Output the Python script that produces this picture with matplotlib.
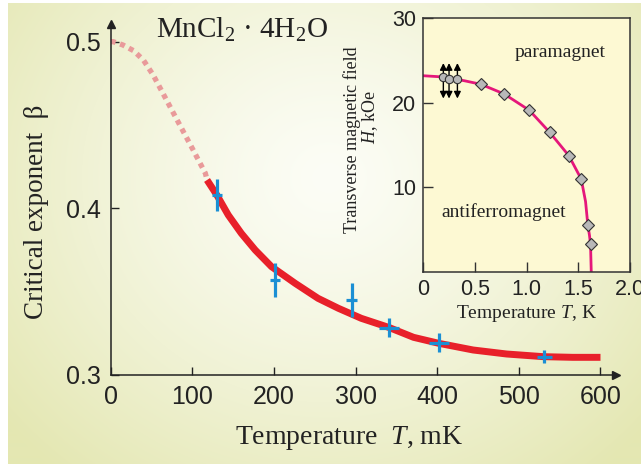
import numpy as np
import matplotlib
matplotlib.use("Agg")
import matplotlib.pyplot as plt

plt.rcParams["mathtext.fontset"] = "custom"
plt.rcParams["mathtext.rm"] = "Liberation Serif"
plt.rcParams["mathtext.it"] = "Liberation Serif:italic"

# main panel: critical exponent beta vs temperature (mK)
fit_T = [118, 130, 144, 160, 177, 197, 226, 254, 279, 307, 341, 371, 402, 444, 485, 530, 566, 600]
fit_beta = [0.417, 0.408, 0.396, 0.385, 0.375, 0.365, 0.355, 0.346, 0.340, 0.334, 0.3285,
            0.3226, 0.319, 0.315, 0.3126, 0.311, 0.3106, 0.3106]

extrap_T = [0, 3, 15, 28, 40, 52, 64, 77, 89, 101, 116, 118]
extrap_beta = [0.5, 0.5, 0.498, 0.4946, 0.489, 0.480, 0.469, 0.457, 0.446, 0.435, 0.421, 0.417]

meas_T = [130, 201, 295, 341, 402, 531]
meas_beta = [0.408, 0.357, 0.345, 0.3284, 0.3194, 0.311]
meas_dT = [6, 6, 7, 12, 12.5, 9]
meas_dbeta = [0.0094, 0.010, 0.010, 0.0055, 0.0055, 0.0038]

# inset: phase diagram H(T)
phase_T = [0, 0.2, 0.4, 0.557, 0.783, 1.026, 1.223, 1.408, 1.528, 1.57, 1.592, 1.608, 1.618, 1.625]
phase_H = [23.2, 23.05, 22.6, 22.19, 21.04, 19.11, 16.5, 13.74, 10.97, 8.3, 5.53, 4.3, 3.24, 0]

diam_T = [0.557, 0.783, 1.026, 1.223, 1.408, 1.528, 1.592, 1.618]
diam_H = [22.19, 21.04, 19.11, 16.5, 13.74, 10.97, 5.53, 3.24]

circ_T = [0.194, 0.249, 0.330]
circ_H = [23.0, 22.78, 22.78]
circ_lo = [20.5, 20.5, 20.5]
circ_hi = [24.7, 24.7, 24.7]

serif = ["Liberation Serif", "DejaVu Serif"]
sans = ["Liberation Sans", "DejaVu Sans"]

fig = plt.figure(figsize=(6.41, 4.67), dpi=100)

# background gradient
bg = fig.add_axes([8 / 641, 3 / 467, 633 / 641, 461 / 467])
bg.set_axis_off()
yy, xx = np.mgrid[0:461, 0:633]
r = np.sqrt((xx - 320) ** 2 + ((yy - 175) * 1.1) ** 2) / 420
r = np.clip(r, 0, 1) ** 1.3
c0 = np.array([252, 253, 246]) / 255
c1 = np.array([228, 231, 178]) / 255
img = c0[None, None, :] * (1 - r[..., None]) + c1[None, None, :] * r[..., None]
bg.imshow(img, aspect="auto", interpolation="bilinear")

ax = fig.add_axes([110.7 / 641, (467 - 375) / 467, (616 - 110.7) / 641, (375 - 24) / 467])
ax.patch.set_visible(False)
ax.set_xlim(0, 619)
ax.set_ylim(0.3, 0.5106)

ax.plot(extrap_T, extrap_beta, color="#e99a9a", lw=3.8, ls=(0, (0.95, 0.9)), solid_capstyle="butt")
ax.plot(fit_T, fit_beta, color="#e8202a", lw=5, solid_capstyle="butt", solid_joinstyle="round")
ax.errorbar(meas_T, meas_beta, xerr=meas_dT, yerr=meas_dbeta, fmt="none",
            ecolor="#1b8fd4", elinewidth=2.3, capsize=0, zorder=5)

for s in ["top", "right"]:
    ax.spines[s].set_visible(False)
for s in ["left", "bottom"]:
    ax.spines[s].set_linewidth(1.1)
    ax.spines[s].set_color("#222222")
ax.plot(1, 0, ">", color="#222222", ms=6, transform=ax.transAxes, clip_on=False)
ax.plot(0, 1, "^", color="#222222", ms=6, transform=ax.transAxes, clip_on=False)

ax.set_xticks([0, 100, 200, 300, 400, 500, 600])
ax.set_yticks([0.3, 0.4, 0.5])
ax.set_yticklabels(["0.3", "0.4", "0.5"])
ax.tick_params(direction="in", length=6, width=1, color="#222222", labelsize=18,
               labelcolor="#222222")
ax.tick_params(axis="x", pad=7)
ax.tick_params(axis="y", pad=7)
for lab in ax.get_xticklabels() + ax.get_yticklabels():
    lab.set_family(sans)

fig.text(37 / 641, 1 - 212 / 467, "Critical exponent  \u03b2", rotation=90, ha="center",
         va="center", fontsize=19.5, family=serif, color="#222222")
fig.text(349 / 641, 1 - 438 / 467, "Temperature  $\\it{T}$, mK", ha="center", va="center",
         fontsize=20, family=serif, color="#222222")
fig.text(242 / 641, 1 - 30 / 467, "MnCl$_2$ \u00b7 4H$_2$O", ha="center", va="center",
         fontsize=21, family=serif, color="#222222")

# inset
ins = fig.add_axes([423.3 / 641, (467 - 271.7) / 467, (630 - 423.3) / 641, (271.7 - 18.3) / 467])
ins.set_facecolor("#fdf9d3")
ins.set_xlim(0, 2.0)
ins.set_ylim(0, 30)
ins.plot(phase_T, phase_H, color="#e5177b", lw=2)
for t, lo, hi in zip(circ_T, circ_lo, circ_hi):
    ins.annotate("", xy=(t, hi), xytext=(t, lo),
                 arrowprops=dict(arrowstyle="<|-|>", color="black", lw=1,
                                 mutation_scale=10, shrinkA=0, shrinkB=0))
ins.plot(circ_T, circ_H, "o", ms=6, mfc="#b8b8b8", mec="#333333", mew=0.8, zorder=5)
ins.plot(diam_T, diam_H, "D", ms=6, mfc="#b8b8b8", mec="#333333", mew=0.8, zorder=5)

ins.text(1.32, 26.0, "paramagnet", ha="center", va="center", fontsize=14, family=serif,
         color="#222222")
ins.text(0.78, 7.1, "antiferromagnet", ha="center", va="center", fontsize=14, family=serif,
         color="#222222")

for s in ins.spines.values():
    s.set_color("#333333")
    s.set_linewidth(1.1)
ins.set_xticks([0, 0.5, 1.0, 1.5, 2.0])
ins.set_xticklabels(["0", "0.5", "1.0", "1.5", "2.0"])
ins.set_yticks([10, 20, 30])
ins.tick_params(direction="in", length=7, width=1, color="#333333", labelsize=15.5,
                labelcolor="#222222", pad=5)
for lab in ins.get_xticklabels() + ins.get_yticklabels():
    lab.set_family(sans)

fig.text(352 / 641, 1 - 140 / 467, "Transverse magnetic field", rotation=90, ha="center",
         va="center", fontsize=13, family=serif, color="#222222")
fig.text(370 / 641, 1 - 117 / 467, "$\\it{H}$, kOe", rotation=90, ha="center",
         va="center", fontsize=13, family=serif, color="#222222")
fig.text(527 / 641, 1 - 313 / 467, "Temperature $\\it{T}$, K", ha="center", va="center",
         fontsize=14, family=serif, color="#222222")

fig.savefig("out.png", dpi=100)
